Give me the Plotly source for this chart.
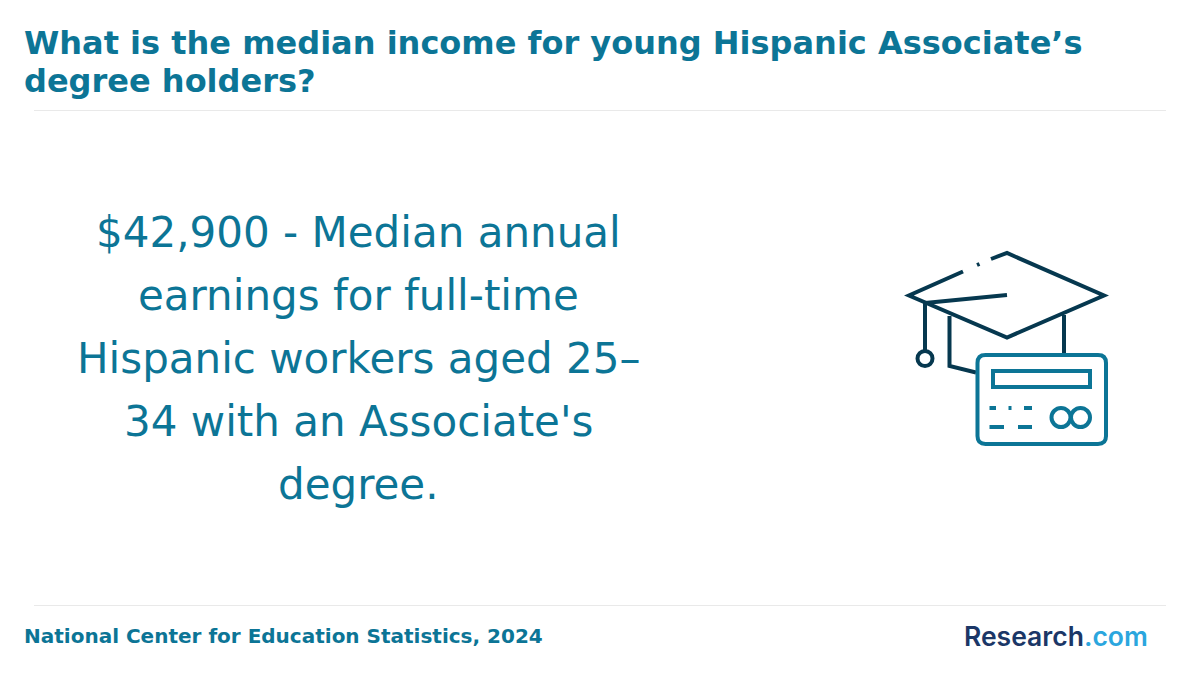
import plotly.graph_objects as go

title_lines = ["What is the median income for young Hispanic Associate’s", "degree holders?"]
body_lines = [
    "$42,900 - Median annual",
    "earnings for full-time",
    "Hispanic workers aged 25–",
    "34 with an Associate's",
    "degree.",
]
source_text = "National Center for Education Statistics, 2024"

TEAL = "#0C7596"
NAVY = "#06384F"
W, H = 1200, 680


def px(x):
    return x / W


def py(y):
    return 1 - y / H


def to_path(points, close=False):
    s = "M " + " L ".join(f"{px(x):.5f},{py(y):.5f}" for x, y in points)
    return s + (" Z" if close else "")


def line_shape(points, color, width=4):
    return dict(type="path", path=to_path(points), xref="paper", yref="paper",
                line=dict(color=color, width=width), layer="above")


def circle_shape(cx, cy, r, color, width=4):
    return dict(type="circle", xref="paper", yref="paper",
                x0=px(cx - r), x1=px(cx + r), y0=py(cy + r), y1=py(cy - r),
                line=dict(color=color, width=width))


def card_path(x0, y0, x1, y1, r):
    return (f"M {px(x0 + r):.5f},{py(y0):.5f} L {px(x1 - r):.5f},{py(y0):.5f} "
            f"Q {px(x1):.5f},{py(y0):.5f} {px(x1):.5f},{py(y0 + r):.5f} "
            f"L {px(x1):.5f},{py(y1 - r):.5f} "
            f"Q {px(x1):.5f},{py(y1):.5f} {px(x1 - r):.5f},{py(y1):.5f} "
            f"L {px(x0 + r):.5f},{py(y1):.5f} "
            f"Q {px(x0):.5f},{py(y1):.5f} {px(x0):.5f},{py(y1 - r):.5f} "
            f"L {px(x0):.5f},{py(y0 + r):.5f} "
            f"Q {px(x0):.5f},{py(y0):.5f} {px(x0 + r):.5f},{py(y0):.5f} Z")


fig = go.Figure()

shapes = [
    line_shape([(34, 110.5), (1166, 110.5)], "#E9E9E9", 1),
    line_shape([(34, 605.5), (1166, 605.5)], "#E9E9E9", 1),
    # cap
    line_shape([(991, 259), (1007, 253), (1104, 295.5), (1007, 337.5), (909, 295.5), (963, 271.5)], NAVY),
    line_shape([(977, 265), (979.5, 264)], NAVY),
    line_shape([(925, 303), (1007, 295)], NAVY),
    line_shape([(925, 303), (925, 350)], NAVY),
    circle_shape(925, 358.5, 7.5, NAVY),
    line_shape([(949.5, 316), (949.5, 366), (976, 372.5)], NAVY),
    line_shape([(1064, 315), (1064, 354)], NAVY),
    # card
    dict(type="path", path=card_path(977.5, 355, 1106, 444, 8), xref="paper", yref="paper",
         line=dict(color=TEAL, width=4)),
    dict(type="rect", xref="paper", yref="paper", x0=px(993), x1=px(1090), y0=py(387), y1=py(371),
         line=dict(color=TEAL, width=4)),
    line_shape([(989.5, 408), (996, 408)], TEAL),
    line_shape([(1008.5, 408), (1011.5, 408)], TEAL),
    line_shape([(1024, 408), (1032, 408)], TEAL),
    line_shape([(989.5, 427), (1004, 427)], TEAL),
    line_shape([(1018, 427), (1032, 427)], TEAL),
    circle_shape(1061, 417.5, 9.5, TEAL),
    circle_shape(1080.5, 417.5, 9.5, TEAL),
]

annotations = []
for text, y in zip(title_lines, [43, 81]):
    annotations.append(dict(text=text, x=px(22), y=py(y), xref="paper", yref="paper",
                            xanchor="left", yanchor="middle", showarrow=False,
                            font=dict(family="DejaVu Sans", size=32, color=TEAL, weight="bold")))
for i, text in enumerate(body_lines):
    annotations.append(dict(text=text, x=px(358.5), y=py(232 + i * 63), xref="paper", yref="paper",
                            xanchor="center", yanchor="middle", showarrow=False,
                            font=dict(family="DejaVu Sans", size=42, color=TEAL)))
annotations.append(dict(text=source_text, x=px(22), y=py(636), xref="paper", yref="paper",
                        xanchor="left", yanchor="middle", showarrow=False,
                        font=dict(family="DejaVu Sans", size=20, color=TEAL, weight="bold")))
annotations.append(dict(text="<span style='color:#1B3767'>Research</span><span style='color:#2BA6DE'>.com</span>",
                        x=px(962), y=py(636), xref="paper", yref="paper",
                        xanchor="left", yanchor="middle", showarrow=False,
                        font=dict(family="Inter", size=26.5, weight=600)))

fig.update_layout(
    width=W,
    height=H,
    margin=dict(l=0, r=0, t=0, b=0),
    paper_bgcolor="white",
    plot_bgcolor="white",
    xaxis=dict(visible=False),
    yaxis=dict(visible=False),
    shapes=shapes,
    annotations=annotations,
    showlegend=False,
)

# page body has a default margin, drop it so the figure sits at 0,0
fig.write_html("out.html", config=dict(displayModeBar=False),
               post_script="document.body.style.margin='0';")
